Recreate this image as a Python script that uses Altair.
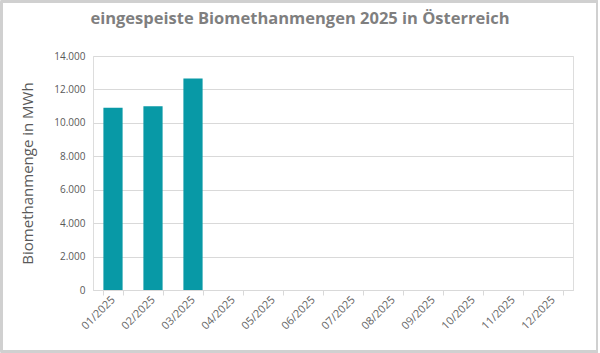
import altair as alt
import pandas as pd

title_text = "eingespeiste Biomethanmengen 2025 in Österreich"
months = ["01/2025", "02/2025", "03/2025", "04/2025", "05/2025", "06/2025",
          "07/2025", "08/2025", "09/2025", "10/2025", "11/2025", "12/2025"]
values = [10900, 11000, 12650, None, None, None, None, None, None, None, None, None]

df = pd.DataFrame({"Monat": months, "MWh": values})

W, H = 480, 234
PL, PT = 93, 56

bars = alt.Chart(df).mark_bar(color="#0899A6").encode(
    x=alt.X("Monat:N", sort=months,
            scale=alt.Scale(paddingInner=0.52, paddingOuter=0.26),
            axis=alt.Axis(title=None, labelAngle=-45, labelAlign="right",
                          labelBaseline="middle", labelFontSize=11,
                          labelColor="#666666", labelFont="Open Sans",
                          domainColor="#d9d9d9", tickColor="#d9d9d9",
                          tickSize=5, tickBand="extent", labelPadding=3,
                          grid=False)),
    y=alt.Y("MWh:Q",
            scale=alt.Scale(domain=[0, 14000], nice=False),
            axis=alt.Axis(title="Biomethanmenge in MWh", values=list(range(0, 14001, 2000)),
                          format=",.0f", labelExpr="replace(datum.label, ',', '.')",
                          labelFontSize=10, labelColor="#595959", labelFont="Open Sans",
                          labelPadding=8,
                          titleFontSize=15, titleColor="#595959", titleFont="Open Sans",
                          titleFontWeight="normal", titlePadding=18,
                          domain=False, ticks=False, gridColor="#d9d9d9")),
)

border = alt.Chart(df).mark_rect(fill=None, stroke="#d0d0d0", strokeWidth=1.5, clip=False).encode(
    x=alt.value(-PL + 1.5), x2=alt.value(597 - PL), y=alt.value(-PT + 1.5), y2=alt.value(351.5 - PT)
)

title = alt.Chart(pd.DataFrame({"t": [title_text]})).mark_text(
    fontSize=16.5, font="Open Sans", fontWeight="bold", color="#7f7f7f",
    align="center", baseline="middle", clip=False
).encode(text="t:N", x=alt.value(300 - PL), y=alt.value(19 - PT))

chart = alt.layer(bars, border, title).properties(
    width=W, height=H,
    padding={"left": PL, "top": PT, "right": 600 - PL - W, "bottom": 353 - PT - H},
    autosize=alt.AutoSizeParams(type="none"),
).configure_view(stroke=None).configure(background="white")

chart.save("out.html", embed_options={"renderer": "svg", "actions": False})
